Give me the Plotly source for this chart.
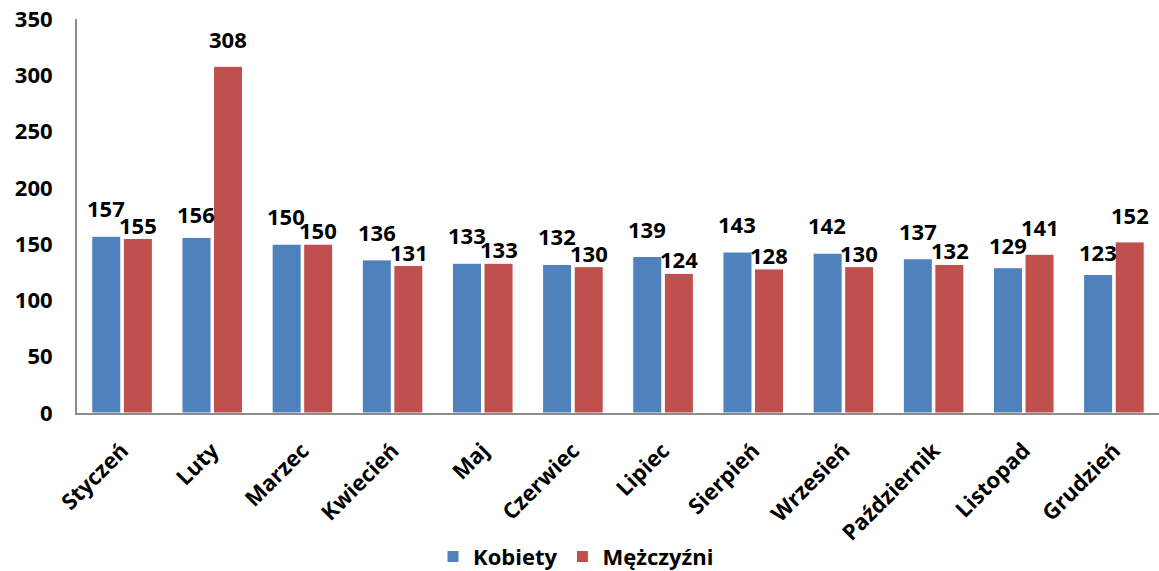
import plotly.graph_objects as go

months = ["Styczeń", "Luty", "Marzec", "Kwiecień", "Maj", "Czerwiec", "Lipiec",
          "Sierpień", "Wrzesień", "Październik", "Listopad", "Grudzień"]
kobiety = [157, 156, 150, 136, 133, 132, 139, 143, 142, 137, 129, 123]
mezczyzni = [155, 308, 150, 131, 133, 130, 124, 128, 130, 132, 141, 152]
y_ticks = [0, 50, 100, 150, 200, 250, 300, 350]

FONT = "Open Sans"
BLUE = "#4F81BD"
RED = "#C0504D"

fig = go.Figure()
fig.add_trace(go.Bar(name="Kobiety", x=months, y=kobiety, marker_color=BLUE,
                     marker_line=dict(color="#FFFFFF", width=1)))
fig.add_trace(go.Bar(name="Mężczyźni", x=months, y=mezczyzni, marker_color=RED,
                     marker_line=dict(color="#FFFFFF", width=1)))

# data labels, staggered like the original so neighbouring labels don't collide
label_font = dict(family=FONT, size=22, color="#000000", weight="bold")
annotations = []
for m, k, mz in zip(months, kobiety, mezczyzni):
    annotations.append(dict(x=m, y=k, xref="x", yref="y", text=str(k), showarrow=False,
                            xshift=-16, yshift=(23 if mz > k else 28), yanchor="middle",
                            font=label_font))
    annotations.append(dict(x=m, y=mz, xref="x", yref="y", text=str(mz), showarrow=False,
                            xshift=16, yshift=(27 if mz > k else 14), yanchor="middle",
                            font=label_font))

fig.update_layout(
    width=1159, height=571,
    margin=dict(l=77, r=0, t=19, b=158, autoexpand=False),
    paper_bgcolor="white", plot_bgcolor="white",
    barmode="group", bargap=0.3, bargroupgap=0.08,
    font=dict(family=FONT, size=20, color="#000000", weight="bold"),
    showlegend=True,
    legend=dict(orientation="h", x=0.497, xanchor="center", xref="container",
                y=0.025, yanchor="middle", yref="container",
                font=dict(family=FONT, size=22, weight="bold"),
                traceorder="normal"),
    annotations=annotations,
)
fig.update_yaxes(range=[0, 350], tickvals=y_ticks, showgrid=False, zeroline=False,
                 showline=True, linecolor="#8C8C8C", linewidth=2, ticks="",
                 automargin=False, ticklabeloverflow="allow",
                 tickfont=dict(family=FONT, size=22, weight="bold"), ticklabelstandoff=18)
fig.update_xaxes(showgrid=False, showline=True, linecolor="#8C8C8C", linewidth=2,
                 tickangle=-45, ticks="", ticklabelstandoff=14, automargin=False,
                 ticklabeloverflow="allow",
                 tickfont=dict(family=FONT, size=22, weight="bold"))

# remove the browser's default page margin so the figure sits at the window's corner
fig.write_html("out.html", config={"displayModeBar": False},
               post_script="document.body.style.margin='0';document.body.style.padding='0';")
